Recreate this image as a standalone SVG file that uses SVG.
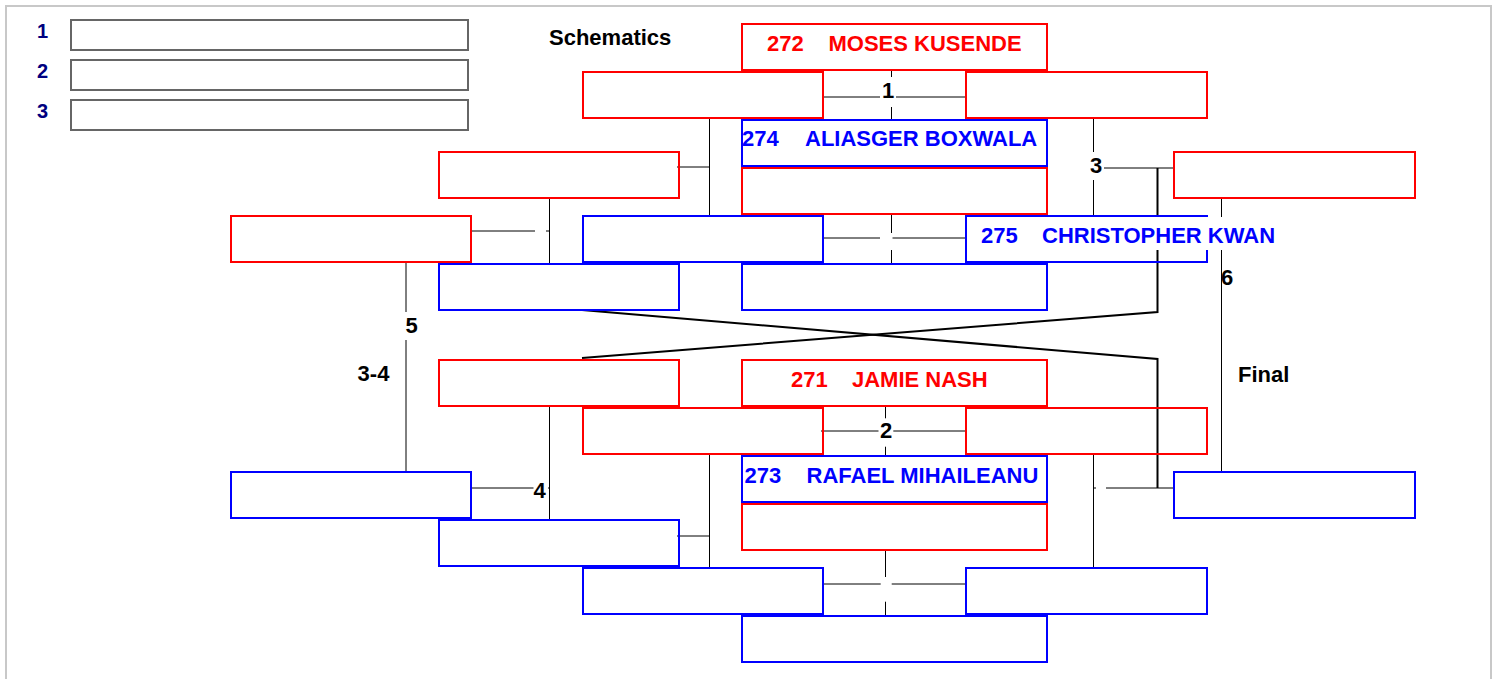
<svg xmlns="http://www.w3.org/2000/svg" width="1499" height="679" viewBox="0 0 1499 679">
<style>
.frame{fill:none;stroke:#c8c8c8;stroke-width:2}
.lg{fill:#fff;stroke:#666;stroke-width:2}
.r{fill:none;stroke:#f00;stroke-width:2}
.b{fill:none;stroke:#00f;stroke-width:2}
.t{font-family:"Liberation Sans",Arial,sans-serif;font-weight:bold;font-size:22px}
.rt{fill:#f00}.bt{fill:#00f}.kt{fill:#000}
.nv{font-family:"Liberation Sans",Arial,sans-serif;font-weight:bold;font-size:20px;fill:#000080}
.ln{fill:none;stroke:#000;stroke-width:1}
.tk{fill:none;stroke:#000;stroke-width:2}
.bg{fill:#fff}
</style>
<rect width="1499" height="679" fill="#fff"/>
<rect class="frame" x="6" y="6" width="1485" height="700"/>

<g id="legend">
<text class="nv" x="42.5" y="38" text-anchor="middle">1</text>
<rect class="lg" x="71" y="20" width="397" height="30"/>
<text class="nv" x="42.5" y="77.5" text-anchor="middle">2</text>
<rect class="lg" x="71" y="60" width="397" height="30"/>
<text class="nv" x="42.5" y="117.5" text-anchor="middle">3</text>
<rect class="lg" x="71" y="100" width="397" height="30"/>
</g>

<g id="titles">
<text class="t kt" x="549" y="45">Schematics</text>
<text class="t kt" x="373.5" y="381" text-anchor="middle">3-4</text>
<text class="t kt" x="1238" y="381.5">Final</text>
</g>

<g id="connectors">
<path class="ln" d="M822,97H965M891.5,70V119"/>
<path class="ln" d="M822,238H965M891.5,214V263"/>
<path class="ln" d="M709.5,118V215M677,167H709.5"/>
<path class="ln" d="M549.5,199V263M470,231H549.5"/>
<path class="ln" d="M406,262V471"/>
<path class="ln" d="M1093.5,118V215M1093.5,168H1173"/>
<path class="tk" d="M1157.5,168V312L582,358"/>
<path class="tk" d="M582,310L1157.5,359V488"/>
<path class="ln" d="M1093.5,454V567M1093.5,488H1173"/>
<path class="ln" d="M1221.5,198V471"/>
<path class="ln" d="M549.5,406V519M470,488H549.5"/>
<path class="ln" d="M709.5,455V567M677,536H709.5"/>
<path class="ln" d="M885.5,406V455M821,431H965"/>
<path class="ln" d="M885.5,550V615M822,584H967"/>
<g id="match-labels">
<rect class="bg" x="880" y="77" width="16" height="30"/>
<text class="t kt" x="888" y="98.3" text-anchor="middle">1</text>
<rect class="bg" x="880" y="233" width="12.5" height="17"/>
<rect class="bg" x="535" y="221" width="11" height="20"/>
<rect class="bg" x="1087" y="152" width="17" height="28"/>
<text class="t kt" x="1096" y="173.3" text-anchor="middle">3</text>
<rect class="bg" x="403" y="312" width="18" height="28"/>
<text class="t kt" x="411.7" y="333.3" text-anchor="middle">5</text>
<text class="t kt" x="1221" y="285">6</text>
<rect class="bg" x="878.5" y="418.3" width="14.8" height="28.4"/>
<text class="t kt" x="886" y="438.3" text-anchor="middle">2</text>
<rect class="bg" x="533.5" y="477" width="14.5" height="23"/>
<text class="t kt" x="539.5" y="498.3" text-anchor="middle">4</text>
<rect class="bg" x="1096" y="477" width="10" height="21"/>
<rect class="bg" x="880.7" y="577" width="11" height="24.7"/>
</g>
</g>

<g id="node-272"><rect class="r" x="742" y="24" width="305" height="46"/><text class="t rt" y="50.5"><tspan x="767">272</tspan><tspan x="828.5">MOSES KUSENDE</tspan></text></g>
<g id="node-w1a"><rect class="r" x="583" y="72" width="240" height="46"/></g>
<g id="node-w1b"><rect class="r" x="966" y="72" width="241" height="46"/></g>
<g id="node-274"><rect class="b" x="742" y="120" width="305" height="46"/><text class="t bt" y="146"><tspan x="742">274</tspan><tspan x="805">ALIASGER BOXWALA</tspan></text></g>
<g id="node-c3"><rect class="r" x="742" y="168" width="305" height="46"/></g>
<g id="node-l3"><rect class="r" x="439" y="152" width="240" height="46"/></g>
<g id="node-r3"><rect class="r" x="1174" y="152" width="241" height="46"/></g>
<g id="node-fl5"><rect class="r" x="231" y="216" width="240" height="46"/></g>
<g id="node-w1c"><rect class="b" x="583" y="216" width="240" height="46"/></g>
<g id="node-275"><rect class="b" x="966" y="216" width="241" height="46"/><rect class="bg" x="980" y="217" width="302" height="33"/><text class="t bt" y="242.5"><tspan x="981">275</tspan><tspan x="1042">CHRISTOPHER KWAN</tspan></text></g>
<g id="node-l4"><rect class="b" x="439" y="264" width="240" height="46"/></g>
<g id="node-c4"><rect class="b" x="742" y="264" width="305" height="46"/></g>

<g id="node-l5"><rect class="r" x="439" y="360" width="240" height="46"/></g>
<g id="node-271"><rect class="r" x="742" y="360" width="305" height="46"/><text class="t rt" y="386.5"><tspan x="791">271</tspan><tspan x="852">JAMIE NASH</tspan></text></g>
<g id="node-w2a"><rect class="r" x="583" y="408" width="240" height="46"/></g>
<g id="node-w2b"><rect class="r" x="966" y="408" width="241" height="46"/></g>
<g id="node-273"><rect class="b" x="742" y="456" width="305" height="46"/><text class="t bt" y="482.5"><tspan x="744.5">273</tspan><tspan x="806.5">RAFAEL MIHAILEANU</tspan></text></g>
<g id="node-c6"><rect class="r" x="742" y="504" width="305" height="46"/></g>
<g id="node-fl6"><rect class="b" x="231" y="472" width="240" height="46"/></g>
<g id="node-fr6"><rect class="b" x="1174" y="472" width="241" height="46"/></g>
<g id="node-l6"><rect class="b" x="439" y="520" width="240" height="46"/></g>
<g id="node-w2c"><rect class="b" x="583" y="568" width="240" height="46"/></g>
<g id="node-w2d"><rect class="b" x="966" y="568" width="241" height="46"/></g>
<g id="node-c7"><rect class="b" x="742" y="616" width="305" height="46"/></g>
</svg>
